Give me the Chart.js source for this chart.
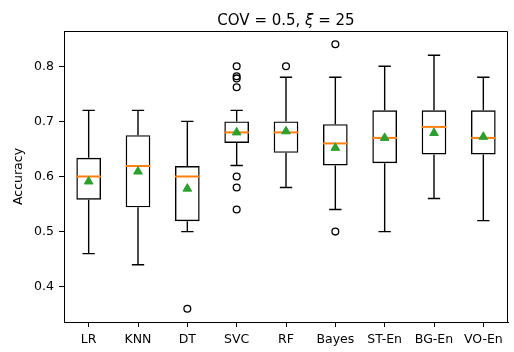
<!DOCTYPE html>
<html>
<head>
<meta charset="utf-8">
<script src="https://cdn.jsdelivr.net/npm/chart.js@4"></script>
<style>
  html, body { margin: 0; padding: 0; background: #fff; }
  #wrap { width: 514px; height: 352px; }
</style>
</head>
<body>
<div id="wrap"><canvas id="cnv" width="514" height="352"></canvas></div>
<script>
// values
const labels = ['LR', 'KNN', 'DT', 'SVC', 'RF', 'Bayes', 'ST-En', 'BG-En', 'VO-En'];
const whiskerLow  = [0.46, 0.44, 0.50, 0.62, 0.58, 0.54, 0.50, 0.56, 0.52];
const q1          = [0.558, 0.544, 0.519, 0.661, 0.643, 0.62, 0.624, 0.64, 0.64];
const medians     = [0.60, 0.619, 0.60, 0.68, 0.68, 0.66, 0.67, 0.69, 0.67];
const q3          = [0.634, 0.675, 0.619, 0.70, 0.70, 0.695, 0.72, 0.72, 0.72];
const whiskerHigh = [0.72, 0.72, 0.70, 0.72, 0.78, 0.78, 0.80, 0.82, 0.78];
const means       = [0.591, 0.609, 0.578, 0.68, 0.682, 0.652, 0.67, 0.679, 0.672];
const outlierCats = ['DT', 'SVC', 'SVC', 'SVC', 'SVC', 'SVC', 'SVC', 'SVC', 'RF', 'Bayes', 'Bayes'];
const outlierVals = [0.36, 0.80, 0.782, 0.778, 0.762, 0.60, 0.58, 0.54, 0.80, 0.84, 0.50];
const yTicks = [0.4, 0.5, 0.6, 0.7, 0.8];
// title pieces, the xi is italic like matplotlib mathtext
const titleParts = [['COV = 0.5, ', 'normal'], ['ξ', 'italic'], [' = 25', 'normal']];

const FONT = "'DejaVu Sans', sans-serif";
Chart.defaults.font.family = FONT;
Chart.defaults.color = '#000';

// whiskers, caps and medians, drawn right after the boxes
const boxExtras = {
  id: 'boxExtras',
  afterDatasetDraw(chart, args) {
    if (args.index !== 0) return;
    const ctx = chart.ctx;
    const x = chart.scales.x, y = chart.scales.y;
    const bars = args.meta.data;
    const capHalf = x.width / labels.length * 0.125;
    ctx.save();
    ctx.lineCap = 'butt';
    labels.forEach((lab, i) => {
      const cx = x.getPixelForValue(i);
      const half = bars[i].width / 2;
      ctx.strokeStyle = '#000';
      ctx.lineWidth = 1.4;
      ctx.beginPath();
      ctx.moveTo(cx, y.getPixelForValue(q3[i]));
      ctx.lineTo(cx, y.getPixelForValue(whiskerHigh[i]));
      ctx.moveTo(cx, y.getPixelForValue(q1[i]));
      ctx.lineTo(cx, y.getPixelForValue(whiskerLow[i]));
      ctx.moveTo(cx - capHalf, y.getPixelForValue(whiskerHigh[i]));
      ctx.lineTo(cx + capHalf, y.getPixelForValue(whiskerHigh[i]));
      ctx.moveTo(cx - capHalf, y.getPixelForValue(whiskerLow[i]));
      ctx.lineTo(cx + capHalf, y.getPixelForValue(whiskerLow[i]));
      ctx.stroke();
      ctx.strokeStyle = '#ff7f0e';
      ctx.lineWidth = 2;
      ctx.beginPath();
      ctx.moveTo(cx - half, y.getPixelForValue(medians[i]));
      ctx.lineTo(cx + half, y.getPixelForValue(medians[i]));
      ctx.stroke();
    });
    ctx.restore();
  }
};

// top and right spines, plus the title
const frame = {
  id: 'frame',
  afterDraw(chart) {
    const a = chart.chartArea, ctx = chart.ctx;
    ctx.save();
    ctx.strokeStyle = '#000';
    ctx.lineWidth = 1;
    ctx.beginPath();
    ctx.moveTo(a.left, a.top + 0.5);
    ctx.lineTo(a.right - 0.5, a.top + 0.5);
    ctx.lineTo(a.right - 0.5, a.bottom);
    ctx.stroke();

    ctx.fillStyle = '#000';
    ctx.textBaseline = 'alphabetic';
    const fontFor = st => st + ' 15px ' + FONT;
    let total = 0;
    titleParts.forEach(p => { ctx.font = fontFor(p[1]); total += ctx.measureText(p[0]).width; });
    let tx = (a.left + a.right) / 2 - total / 2;
    titleParts.forEach(p => {
      ctx.font = fontFor(p[1]);
      ctx.fillText(p[0], tx, 25);
      tx += ctx.measureText(p[0]).width;
    });
    ctx.restore();
  }
};

new Chart(document.getElementById('cnv'), {
  type: 'bar',
  data: {
    labels: labels,
    datasets: [
      {
        label: 'box',
        data: labels.map((l, i) => [q1[i], q3[i]]),
        backgroundColor: 'rgba(0,0,0,0)',
        borderColor: '#000',
        borderWidth: 1.4,
        borderSkipped: false,
        barPercentage: 0.5,
        categoryPercentage: 1.0,
        order: 3
      },
      {
        type: 'line',
        label: 'mean',
        data: labels.map((l, i) => ({ x: l, y: means[i] })),
        showLine: false,
        pointStyle: 'triangle',
        pointRadius: 5,
        pointBackgroundColor: '#2ca02c',
        pointBorderColor: '#2ca02c',
        pointBorderWidth: 1,
        order: 1
      },
      {
        type: 'line',
        label: 'outliers',
        data: outlierCats.map((c, i) => ({ x: c, y: outlierVals[i] })),
        showLine: false,
        pointStyle: 'circle',
        pointRadius: 3.4,
        pointBackgroundColor: 'rgba(0,0,0,0)',
        pointBorderColor: '#000',
        pointBorderWidth: 1.3,
        order: 0
      }
    ]
  },
  options: {
    responsive: false,
    animation: false,
    layout: { padding: { left: 0, right: 2.5, top: 31, bottom: 0 } },
    plugins: {
      legend: { display: false },
      tooltip: { enabled: false },
      title: { display: false }
    },
    scales: {
      x: {
        type: 'category',
        offset: true,
        grid: { display: true, drawOnChartArea: false, drawTicks: true, tickLength: 5, color: '#000', offset: false },
        border: { display: true, color: '#000', width: 1 },
        ticks: { font: { size: 12.5 }, padding: 5, maxRotation: 0 },
        afterFit: s => { s.height = 30; }
      },
      y: {
        type: 'linear',
        min: 0.336,
        max: 0.864,
        afterBuildTicks: s => { s.ticks = yTicks.map(v => ({ value: v })); },
        grid: { display: true, drawOnChartArea: false, drawTicks: true, tickLength: 5, color: '#000' },
        border: { display: true, color: '#000', width: 1 },
        ticks: { font: { size: 12.5 }, padding: 5, callback: v => v.toFixed(1) },
        title: { display: true, text: 'Accuracy', font: { size: 12.5 }, padding: { top: 11, bottom: 0 } },
        afterFit: s => { s.width = 64; }
      }
    }
  },
  plugins: [boxExtras, frame]
});
</script>
</body>
</html>
